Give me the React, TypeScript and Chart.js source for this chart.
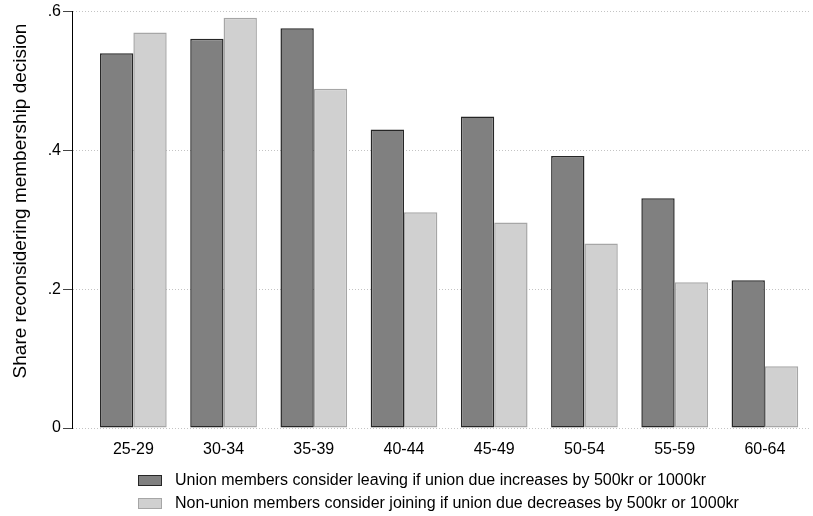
import React, { useEffect, useRef } from "react";
import { Chart, registerables } from "chart.js";

Chart.register(...registerables);

const categories = ["25-29", "30-34", "35-39", "40-44", "45-49", "50-54", "55-59", "60-64"];
const unionLeaving = [0.54, 0.561, 0.576, 0.43, 0.449, 0.392, 0.331, 0.213];
const nonUnionJoining = [0.57, 0.591, 0.489, 0.311, 0.296, 0.266, 0.21, 0.089];
const yTicks = [0, 0.2, 0.4, 0.6];
const yTickLabels = ["0", ".2", ".4", ".6"];
const seriesLabels = [
  "Union members consider leaving if union due increases by 500kr or 1000kr",
  "Non-union members consider joining if union due decreases by 500kr or 1000kr",
];
const yTitle = "Share reconsidering membership decision";

const FONT = "'Liberation Sans', Arial, sans-serif";
const DARK_FILL = "#808080";
const DARK_BORDER = "#262626";
const LIGHT_FILL = "#d0d0d0";
const LIGHT_BORDER = "#a6a6a6";

export default function App() {
  const ref = useRef<HTMLCanvasElement | null>(null);

  useEffect(() => {
    if (!ref.current) return;
    const chart = new Chart(ref.current, {
      type: "bar",
      data: {
        datasets: [
          {
            label: seriesLabels[0],
            data: unionLeaving.map((v, i) => ({ x: i, y: v })),
            backgroundColor: DARK_FILL,
            borderColor: DARK_BORDER,
            borderWidth: 1.5,
            borderSkipped: false,
          },
          {
            label: seriesLabels[1],
            data: nonUnionJoining.map((v, i) => ({ x: i, y: v })),
            backgroundColor: LIGHT_FILL,
            borderColor: LIGHT_BORDER,
            borderWidth: 1.5,
            borderSkipped: false,
          },
        ],
      },
      options: {
        animation: false,
        responsive: false,
        maintainAspectRatio: false,
        layout: { padding: { left: 0, right: 3, top: 11, bottom: 0 } },
        datasets: { bar: { categoryPercentage: 0.739, barPercentage: 1 } },
        plugins: {
          legend: { display: false },
          tooltip: { enabled: false },
        },
        scales: {
          x: {
            type: "linear",
            min: -0.68,
            max: 7.5,
            offset: false,
            grid: { display: false },
            border: { display: false },
            afterFit: (s: any) => {
              s.height = 88;
            },
            afterBuildTicks: (s: any) => {
              s.ticks = categories.map((_, i) => ({ value: i }));
            },
            ticks: {
              autoSkip: false,
              maxRotation: 0,
              padding: 4,
              color: "#000",
              font: { family: FONT, size: 16 },
              callback: (v: any) => (Number.isInteger(v) ? categories[v] : ""),
            },
          },
          y: {
            min: 0,
            max: 0.6,
            afterFit: (s: any) => {
              s.width = 72;
            },
            afterBuildTicks: (s: any) => {
              s.ticks = yTicks.map((v) => ({ value: v }));
            },
            border: { display: true, color: "#000", width: 1, dash: [1, 2] },
            grid: {
              color: "#c4c4c4",
              lineWidth: 1,
              tickColor: "#444",
              tickLength: 9,
              tickBorderDash: [],
              drawTicks: true,
            } as any,
            ticks: {
              padding: 2,
              color: "#000",
              font: { family: FONT, size: 16 },
              callback: (v: any) => {
                const idx = yTicks.findIndex((t) => Math.abs(t - v) < 1e-9);
                return idx >= 0 ? yTickLabels[idx] : "";
              },
            },
            title: { display: false },
          },
        },
      },
      plugins: [
        {
          id: "yTitle",
          afterDraw: (c: any) => {
            const ctx = c.ctx;
            ctx.save();
            ctx.translate(26, 201);
            ctx.rotate(-Math.PI / 2);
            ctx.fillStyle = "#000";
            ctx.font = `19px ${FONT}`;
            ctx.textAlign = "center";
            ctx.textBaseline = "alphabetic";
            ctx.fillText(yTitle, 0, 0);
            ctx.restore();
          },
        },
      ],
    } as any);
    return () => chart.destroy();
  }, []);

  const legendRow = (i: number, center: number) => (
    <div
      key={i}
      style={{
        position: "absolute",
        left: 138,
        top: center - 10,
        height: 20,
        display: "flex",
        alignItems: "center",
        fontFamily: FONT,
        fontSize: 16,
        lineHeight: "20px",
        color: "#000",
        whiteSpace: "nowrap",
      }}
    >
      <span
        style={{
          display: "inline-block",
          width: 22,
          height: 9,
          background: i === 0 ? DARK_FILL : LIGHT_FILL,
          border: `1px solid ${i === 0 ? DARK_BORDER : LIGHT_BORDER}`,
          marginRight: 13,
        }}
      />
      <span>{seriesLabels[i]}</span>
    </div>
  );

  return (
    <div style={{ position: "fixed", left: 0, top: 0, width: 813, height: 516, background: "#fff" }}>
      <canvas ref={ref} width={813} height={516} style={{ display: "block" }} />
      {legendRow(0, 480)}
      {legendRow(1, 503)}
    </div>
  );
}
